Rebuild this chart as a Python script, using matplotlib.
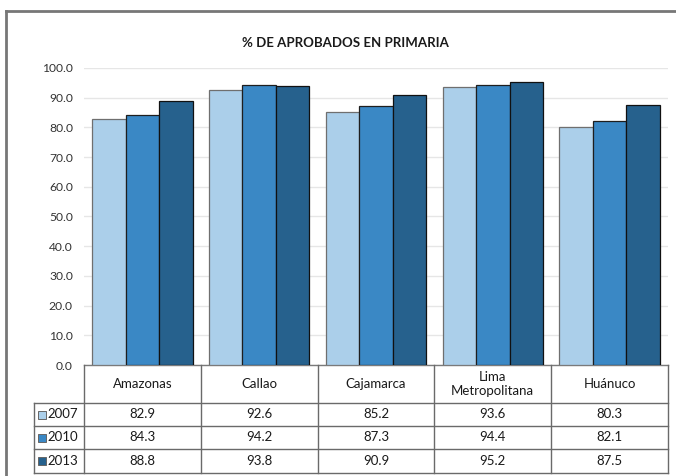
import matplotlib
matplotlib.use("Agg")
import matplotlib.pyplot as plt
import matplotlib.transforms as mtransforms
from matplotlib.lines import Line2D
from matplotlib.patches import Rectangle
import numpy as np

# datos por departamento
regiones = ["Amazonas", "Callao", "Cajamarca", "Lima\nMetropolitana", "Huánuco"]
anios = ["2007", "2010", "2013"]
val_2007 = [82.9, 92.6, 85.2, 93.6, 80.3]
val_2010 = [84.3, 94.2, 87.3, 94.4, 82.1]
val_2013 = [88.8, 93.8, 90.9, 95.2, 87.5]
serie = [val_2007, val_2010, val_2013]

colores = ["#abcfea", "#3a88c5", "#26618d"]
bordes = ["#6f6f6f", "#1e1e1e", "#111111"]

plt.rcParams["font.family"] = ["Lato", "DejaVu Sans"]

W, H = 676, 476
fig = plt.figure(figsize=(W / 100, H / 100), dpi=100)


def fx(x):
    return x / W


def fy(y):
    return 1 - y / H


# area del grafico (en pixeles)
izq, der, arriba, abajo = 84, 668, 68, 365
ax = fig.add_axes([fx(izq), fy(abajo), fx(der - izq), fy(arriba) - fy(abajo)])

x = np.arange(len(regiones))
ancho = 0.286
for k in range(len(anios)):
    ax.bar(x + (k - 1) * ancho, serie[k], ancho, color=colores[k],
           edgecolor=bordes[k], linewidth=0.9, zorder=3)

ax.set_xlim(-0.5, len(regiones) - 0.5)
ax.set_ylim(0, 100)
ax.set_yticks(np.arange(0, 101, 10))
ax.set_yticklabels([f"{v:.1f}" for v in np.arange(0, 101, 10)])
ax.tick_params(axis="y", length=0, pad=8, labelsize=8.7, labelcolor="#333333")
ax.set_xticks([])
ax.yaxis.grid(True, color="#e6e6e6", linewidth=1, zorder=0)
ax.set_axisbelow(True)
for s in ["left", "right", "top"]:
    ax.spines[s].set_visible(False)
ax.spines["bottom"].set_color("#7a7a7a")
ax.spines["bottom"].set_linewidth(1)

fig.text(fx(345), fy(43), "% DE APROBADOS EN PRIMARIA", ha="center", va="center",
         fontsize=9.5, fontweight="bold", color="#1a1a1a")

# tabla de datos debajo del grafico
gris = "#6a6a6a"
col_leyenda = 34
filas = [365, 403, 426, 449, 473]
fs_tabla = 9.5


def linea(x0, y0, x1, y1, c=gris, lw=1):
    fig.add_artist(Line2D([fx(x0), fx(x1)], [fy(y0), fy(y1)], color=c, lw=lw,
                          transform=fig.transFigure))


for y in filas[1:]:
    linea(col_leyenda, y, der, y)
linea(col_leyenda, filas[1], col_leyenda, filas[-1])
bordes_col = np.linspace(izq, der, len(regiones) + 1)
for xc in bordes_col:
    linea(xc, filas[0], xc, filas[-1])

trans = mtransforms.blended_transform_factory(ax.transData, fig.transFigure)
for i, reg in enumerate(regiones):
    fig.text(x[i], fy((filas[0] + filas[1]) / 2), reg, transform=trans,
             ha="center", va="center", fontsize=fs_tabla, color="#1a1a1a",
             linespacing=1.25)
    for k in range(len(anios)):
        fig.text(x[i], fy((filas[k + 1] + filas[k + 2]) / 2) + 0.001,
                 f"{serie[k][i]:.1f}", transform=trans, ha="center",
                 va="center", fontsize=fs_tabla, color="#1a1a1a")

for k, anio in enumerate(anios):
    yc = (filas[k + 1] + filas[k + 2]) / 2
    fig.add_artist(Rectangle((fx(38), fy(yc + 4)), fx(8), fy(0) - fy(8),
                             facecolor=colores[k], edgecolor="#666666", lw=0.7,
                             transform=fig.transFigure))
    fig.text(fx(47.5), fy(yc) + 0.001, anio, ha="left", va="center",
             fontsize=fs_tabla, color="#1a1a1a")

# marco exterior
linea(6, 11, 6, H, c="#777777", lw=2)
linea(6, 11, W, 11, c="#777777", lw=2)

fig.savefig("out.png", dpi=100)
